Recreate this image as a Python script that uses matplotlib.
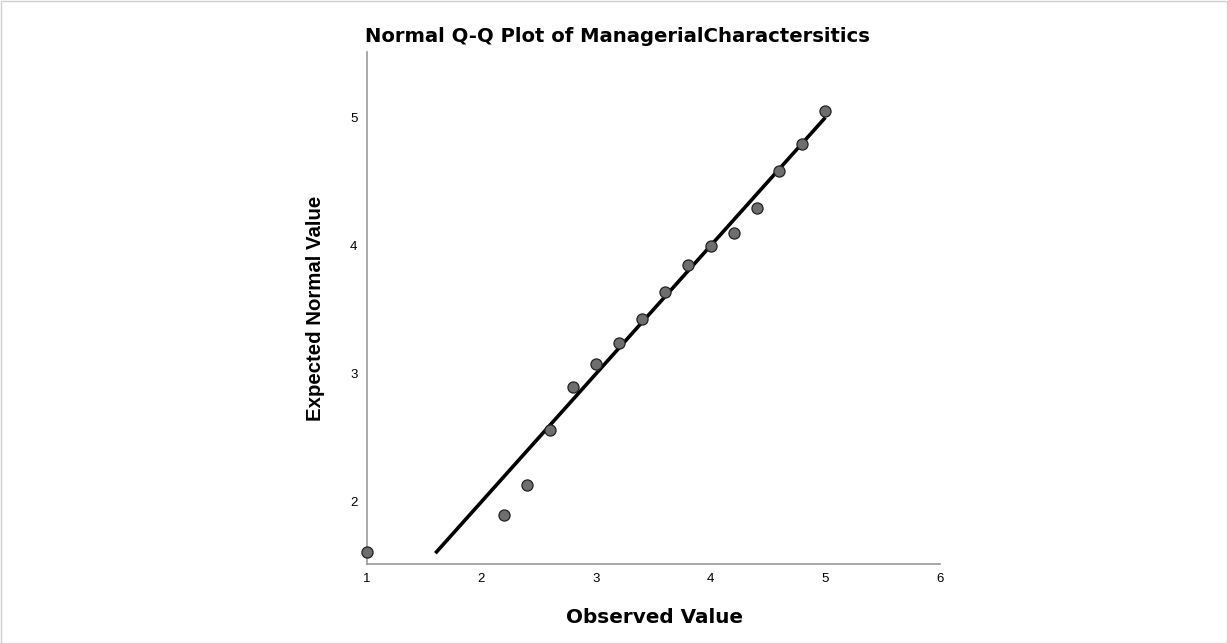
import matplotlib.pyplot as plt
from matplotlib.patches import Rectangle

plt.rcParams['font.family'] = ['Liberation Sans', 'DejaVu Sans']

observed = [1.0, 2.2, 2.4, 2.6, 2.8, 3.0, 3.2, 3.4, 3.6, 3.8, 4.0, 4.2, 4.4, 4.6, 4.8, 5.0]
expected = [1.61, 1.90, 2.13, 2.56, 2.90, 3.08, 3.24, 3.43, 3.64, 3.85, 4.00, 4.10, 4.29, 4.58, 4.79, 5.05]
line_x = [1.6, 5.0]
line_y = [1.6, 5.0]

fig = plt.figure(figsize=(12.28, 6.43), dpi=100)
fig.patches.append(Rectangle((0.001, 0.0), 0.998, 0.998, transform=fig.transFigure,
                             fill=False, edgecolor='#d0d0d0', linewidth=1))
ax = fig.add_axes([0.2985, 0.1229, 0.467, 0.796])

ax.plot(line_x, line_y, color='black', linewidth=2.6, solid_capstyle='butt', zorder=2)
ax.plot(observed, expected, 'o', markersize=8, markerfacecolor='#6e6e6e',
        markeredgecolor='#222222', markeredgewidth=0.9, zorder=3, clip_on=False)

ax.set_xlim(1, 6)
ax.set_ylim(1.516, 5.51)
ax.set_xticks([1, 2, 3, 4, 5, 6])
ax.set_yticks([2, 3, 4, 5])
ax.tick_params(length=0, labelsize=9.5, pad=6.5)

for s in ['top', 'right']:
    ax.spines[s].set_visible(False)
for s in ['left', 'bottom']:
    ax.spines[s].set_color('#999999')
    ax.spines[s].set_linewidth(1.2)

ax.set_xlabel('Observed Value', fontsize=14.4, fontweight='bold',
              family='DejaVu Sans', va='center')
ax.xaxis.set_label_coords(0.502, -0.1036)
ax.set_ylabel('Expected Normal Value', fontsize=14.7, fontweight='bold',
              va='center', ha='center')
ax.yaxis.set_label_coords(-0.0898, 0.5)
fig.text(0.503, 0.944, 'Normal Q-Q Plot of ManagerialCharactersitics', fontsize=14.1,
         fontweight='bold', family='DejaVu Sans', ha='center', va='center')

fig.savefig('out.png', dpi=100)
